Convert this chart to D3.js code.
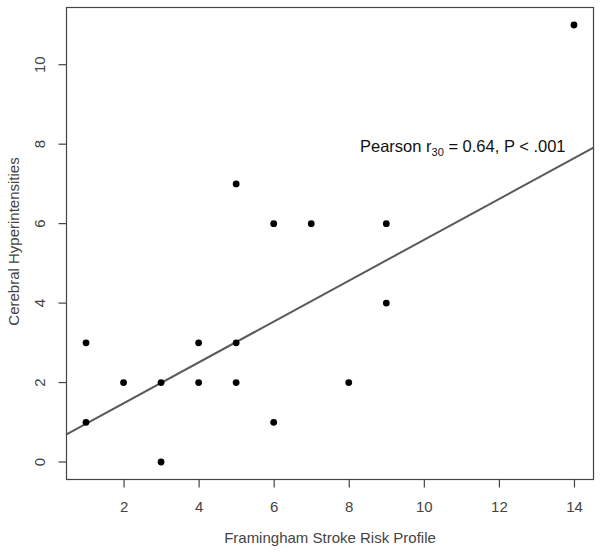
<!DOCTYPE html>
<html>
<head>
<meta charset="utf-8">
<script src="https://cdn.jsdelivr.net/npm/d3@7"></script>
<style>
  body { margin: 0; background: #fff; }
  text { font-family: "Liberation Sans", Arial, sans-serif; }
</style>
</head>
<body>
<script>
'use strict';

var riskProfile = [1, 1, 2, 3, 3, 4, 4, 5, 5, 5, 6, 6, 7, 8, 9, 9, 14];
var hyperintensities = [1, 3, 2, 2, 0, 3, 2, 3, 2, 7, 6, 1, 6, 2, 6, 4, 11];
var xTicks = [2, 4, 6, 8, 10, 12, 14];
var yTicks = [0, 2, 4, 6, 8, 10];
var fitLine = [0.45, 0.514]; // intercept, slope

var chart = {};
chart.width = 602;
chart.height = 552;
chart.left = 66.5;
chart.right = 593.5;
chart.top = 7.5;
chart.bottom = 479.5;

chart.xScale = d3.scaleLinear().domain([0.48, 14.52]).range([chart.left, chart.right]);
chart.yScale = d3.scaleLinear().domain([-0.44, 11.44]).range([chart.bottom, chart.top]);

chart.run = function(){
    var svg = d3.select("body").append("svg")
        .attr("width", chart.width)
        .attr("height", chart.height);

    var xs = chart.xScale, ys = chart.yScale;

    // regression line, clipped to the plot box
    svg.append("clipPath").attr("id", "box")
        .append("rect")
        .attr("x", chart.left).attr("y", chart.top)
        .attr("width", chart.right - chart.left)
        .attr("height", chart.bottom - chart.top);

    var xd = xs.domain();
    svg.append("line")
        .attr("clip-path", "url(#box)")
        .attr("x1", xs(xd[0])).attr("y1", ys(fitLine[0] + fitLine[1] * xd[0]))
        .attr("x2", xs(xd[1])).attr("y2", ys(fitLine[0] + fitLine[1] * xd[1]))
        .attr("stroke", "#5a5a5a")
        .attr("stroke-width", 2);

    // points
    svg.selectAll("circle")
        .data(riskProfile)
        .enter()
            .append("circle")
            .attr("cx", function(d){ return xs(d); })
            .attr("cy", function(d, i){ return ys(hyperintensities[i]); })
            .attr("r", 3.4)
            .attr("fill", "#000");

    // frame
    svg.append("rect")
        .attr("x", chart.left).attr("y", chart.top)
        .attr("width", chart.right - chart.left)
        .attr("height", chart.bottom - chart.top)
        .attr("fill", "none")
        .attr("stroke", "#444")
        .attr("stroke-width", 1.2);

    // x axis
    var xAxis = d3.axisBottom(xs).tickValues(xTicks).tickSize(8).tickPadding(14);
    var gx = svg.append("g")
        .attr("transform", "translate(0," + chart.bottom + ")")
        .call(xAxis);
    gx.select(".domain").remove();
    gx.selectAll("line").attr("stroke", "#444").attr("stroke-width", 1.2);
    gx.selectAll("text").attr("fill", "#444").style("font-size", "15px");

    // y axis
    var yAxis = d3.axisLeft(ys).tickValues(yTicks).tickSize(8);
    var gy = svg.append("g")
        .attr("transform", "translate(" + chart.left + ",0)")
        .call(yAxis);
    gy.select(".domain").remove();
    gy.selectAll(".tick").attr("transform", null);
    gy.selectAll(".tick line")
        .attr("stroke", "#444").attr("stroke-width", 1.2)
        .attr("y1", function(d){ return ys(d); })
        .attr("y2", function(d){ return ys(d); });
    gy.selectAll(".tick text")
        .attr("fill", "#444")
        .style("font-size", "15px")
        .attr("x", 0).attr("y", 0).attr("dy", "0.35em")
        .attr("text-anchor", "middle")
        .attr("transform", function(d){ return "translate(-26.5," + ys(d) + ") rotate(-90)"; });

    // axis titles
    svg.append("text")
        .attr("x", (chart.left + chart.right) / 2)
        .attr("y", 543)
        .attr("text-anchor", "middle")
        .attr("fill", "#444")
        .style("font-size", "15px")
        .text("Framingham Stroke Risk Profile");

    svg.append("text")
        .attr("transform", "translate(19," + ((chart.top + chart.bottom) / 2 - 2) + ") rotate(-90)")
        .attr("text-anchor", "middle")
        .attr("fill", "#444")
        .style("font-size", "15px")
        .text("Cerebral Hyperintensities");

    // annotation
    var note = svg.append("text")
        .attr("x", 360)
        .attr("y", 152)
        .attr("fill", "#111")
        .style("font-size", "16.5px");
    note.append("tspan").text("Pearson r");
    note.append("tspan").attr("dy", 4).style("font-size", "11px").text("30");
    note.append("tspan").attr("dy", -4).text(" = 0.64, P < .001");
};

chart.run();
</script>
</body>
</html>
